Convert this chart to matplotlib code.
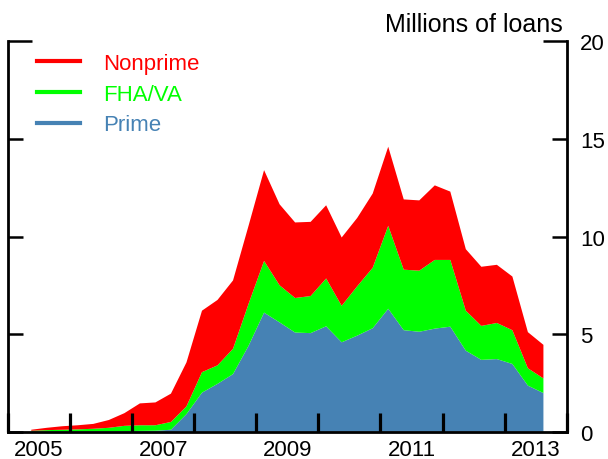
import matplotlib

matplotlib.use("Agg")
import matplotlib.pyplot as plt
import pandas as pd

plt.rcParams["font.family"] = ["Liberation Sans", "DejaVu Sans"]

# quarterly, millions of loans
quarters = pd.period_range("2005Q2", "2013Q3", freq="Q")
prime = [0.01, 0.01, 0.01, 0.01, 0.02, 0.02, 0.03, 0.04, 0.05, 0.10,
         0.90, 2.00, 2.45, 2.95, 4.40, 6.10, 5.60, 5.08, 5.05, 5.40,
         4.58, 4.92, 5.30, 6.30, 5.20, 5.12, 5.28, 5.38, 4.15, 3.68,
         3.72, 3.47, 2.36, 1.98]
fha_va = [0.04, 0.07, 0.09, 0.11, 0.13, 0.18, 0.27, 0.29, 0.28, 0.40,
          0.40, 1.05, 0.95, 1.30, 2.15, 2.65, 1.90, 1.77, 1.90, 2.45,
          1.87, 2.53, 3.10, 4.25, 3.10, 3.13, 3.52, 3.42, 2.05, 1.74,
          1.85, 1.73, 0.89, 0.75]
nonprime = [0.05, 0.12, 0.18, 0.21, 0.25, 0.40, 0.65, 1.12, 1.17, 1.45,
            2.25, 3.15, 3.35, 3.50, 4.00, 4.65, 4.15, 3.87, 3.80, 3.75,
            3.50, 3.50, 3.80, 4.05, 3.60, 3.60, 3.82, 3.50, 3.15, 3.03,
            2.98, 2.75, 1.85, 1.72]
year_labels = [2005, 2007, 2009, 2011, 2013]
year_ticks = list(range(2005, 2015))
y_ticks = [0, 5, 10, 15]

C_PRIME, C_FHA, C_NON = "#4682b4", "#00ff00", "#ff0000"

x = [q.year + (q.quarter - 0.5) / 4 for q in quarters]

fig = plt.figure(figsize=(6.08, 4.60), dpi=100)
ax = fig.add_axes([8 / 608, 27.3 / 460, (566.7 - 8) / 608, (432.7 - 42.3) / 460])

ax.stackplot(x, prime, fha_va, nonprime, colors=[C_PRIME, C_FHA, C_NON], lw=0)

ax.set_xlim(2005, 2014)
ax.set_ylim(0, 20)
ax.spines["top"].set_visible(False)
for s in ("left", "right", "bottom"):
    ax.spines[s].set_linewidth(2)
    ax.spines[s].set_zorder(5)

# x: ticks at year boundaries, labels centred in the year
ax.set_xticks(year_ticks)
ax.set_xticklabels([])
ax.set_xticks([y + 0.5 for y in year_labels], [str(y) for y in year_labels], minor=True)
ax.tick_params(axis="x", which="major", direction="in", length=13.5, width=2.3)
ax.tick_params(axis="x", which="minor", length=0, pad=5, labelsize=16)

# y: labels on the right, inward ticks both sides, longer tick at the top
ax.set_yticks(y_ticks, [str(v) for v in y_ticks])
ax.set_yticks([20], ["20"], minor=True)
ax.tick_params(axis="y", which="both", direction="in", left=True, right=True,
               labelleft=False, labelright=True, width=1.8, pad=9.5, labelsize=16)
ax.tick_params(axis="y", which="major", length=11)
ax.tick_params(axis="y", which="minor", length=17)

fig.text(562.7 / 608, 1 - 31.7 / 460, "Millions of loans", ha="right", va="baseline",
         fontsize=18)

h_non, = ax.plot([], [], color=C_NON, lw=3, label="Nonprime")
h_fha, = ax.plot([], [], color=C_FHA, lw=3, label="FHA/VA")
h_pri, = ax.plot([], [], color=C_PRIME, lw=3, label="Prime")
leg = ax.legend(handles=[h_non, h_fha, h_pri], loc="upper left", frameon=False,
                fontsize=16, handlelength=1.95, handletextpad=1.05, labelspacing=0.43,
                borderaxespad=0, bbox_to_anchor=(20 / 558.7, 1 - 3 / 390.4))
for txt, h in zip(leg.get_texts(), [h_non, h_fha, h_pri]):
    txt.set_color(h.get_color())

fig.savefig("out.png", dpi=100)
